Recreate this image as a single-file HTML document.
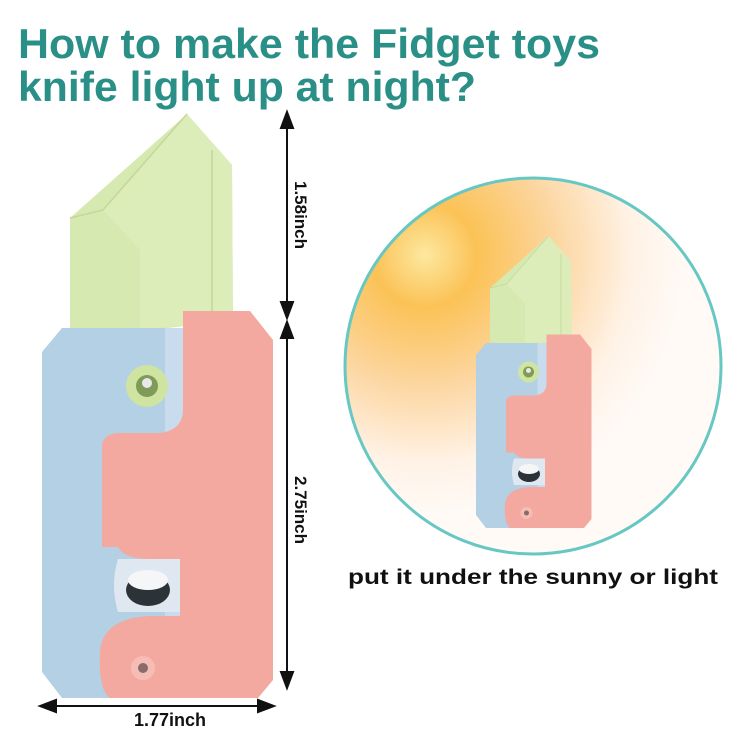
<!DOCTYPE html>
<html><head><meta charset="utf-8"><style>
html,body{margin:0;padding:0;background:#fff;}
svg{display:block;}
text{font-family:"Liberation Sans",sans-serif;font-weight:bold;}
</style></head><body>
<svg width="750" height="750" viewBox="0 0 750 750" xmlns="http://www.w3.org/2000/svg">
<defs>
<radialGradient id="glow" cx="425" cy="255" r="260" gradientUnits="userSpaceOnUse">
<stop offset="0" stop-color="#fde8a0"/>
<stop offset="0.2" stop-color="#fbc256"/>
<stop offset="0.5" stop-color="#fcd6a0"/>
<stop offset="0.8" stop-color="#fff2e6"/>
<stop offset="1" stop-color="#fffaf6"/>
</radialGradient>
<g id="knife">
<polygon points="70,218 187,114 232,165 233,320 70,340" fill="#d6e9b0"/>
<polygon points="103,210 187,114 232,165 233,320 140,330 140,250" fill="#dcedb9"/>
<polyline points="70,218 103,210 187,114" fill="none" stroke="#c3d89c" stroke-width="1.5"/>
<line x1="212" y1="150" x2="212" y2="320" stroke="#c8dca2" stroke-width="2"/>
<polygon points="62,328 190,328 190,698 62,698 42,672 42,352" fill="#b3d0e4"/>
<polygon points="165,328 190,328 190,698 165,698" fill="#c8dced"/>
<path d="M183,311 L250,311 L273,340 L273,680 L258,698 L110,698 Q98,690 100,650 Q104,618 150,616 L180,616 L180,559 L150,559 Q124,559 118,547 L102,547 L102,445 Q104,433 120,433 L160,433 Q183,430 183,409 Z" fill="#f3a9a0"/>
<path d="M118,559 L180,559 L180,612 L118,612 Q110,585 118,559 Z" fill="#dfe8f0"/>
<ellipse cx="148" cy="590" rx="22" ry="16" fill="#2b3238"/>
<ellipse cx="148" cy="580" rx="20" ry="10" fill="#f4f6f8"/>
<circle cx="147" cy="386" r="21" fill="#cfe4a0"/>
<circle cx="147" cy="386" r="11" fill="#7f9b58"/>
<circle cx="147" cy="383" r="5" fill="#e8e8e8"/>
<circle cx="143" cy="668" r="12" fill="#f6bdb5"/>
<circle cx="143" cy="668" r="5" fill="#8a6a6a"/>
</g>
</defs>

<text x="18" y="58" font-size="42" fill="#2a8f87" textLength="582" lengthAdjust="spacingAndGlyphs">How to make the Fidget toys</text>
<text x="18" y="101" font-size="42" fill="#2a8f87" textLength="458" lengthAdjust="spacingAndGlyphs">knife light up at night?</text>

<use href="#knife"/>

<g stroke="#111" stroke-width="2" fill="#111">
<line x1="287" y1="120" x2="287" y2="312"/>
<polygon points="287,112 281,128 293,128"/>
<polygon points="287,318 281,302 293,302"/>
<line x1="287" y1="328" x2="287" y2="680"/>
<polygon points="287,322 281,338 293,338"/>
<polygon points="287,688 281,672 293,672"/>
<line x1="48" y1="706" x2="266" y2="706"/>
<polygon points="40,706 56,700 56,712"/>
<polygon points="274,706 258,700 258,712"/>
</g>
<text transform="translate(295,215) rotate(90)" font-size="17" text-anchor="middle" fill="#111">1.58inch</text>
<text transform="translate(295,510) rotate(90)" font-size="17" text-anchor="middle" fill="#111">2.75inch</text>
<text x="170" y="726" font-size="18" text-anchor="middle" fill="#111">1.77inch</text>

<circle cx="533" cy="366" r="188" fill="url(#glow)" stroke="#67c8c3" stroke-width="3"/>
<use href="#knife" transform="translate(455,179) scale(0.5)"/>

<text x="533" y="584" font-size="21" text-anchor="middle" fill="#111" textLength="370" lengthAdjust="spacingAndGlyphs">put it under the sunny or light</text>
</svg>
</body></html>
